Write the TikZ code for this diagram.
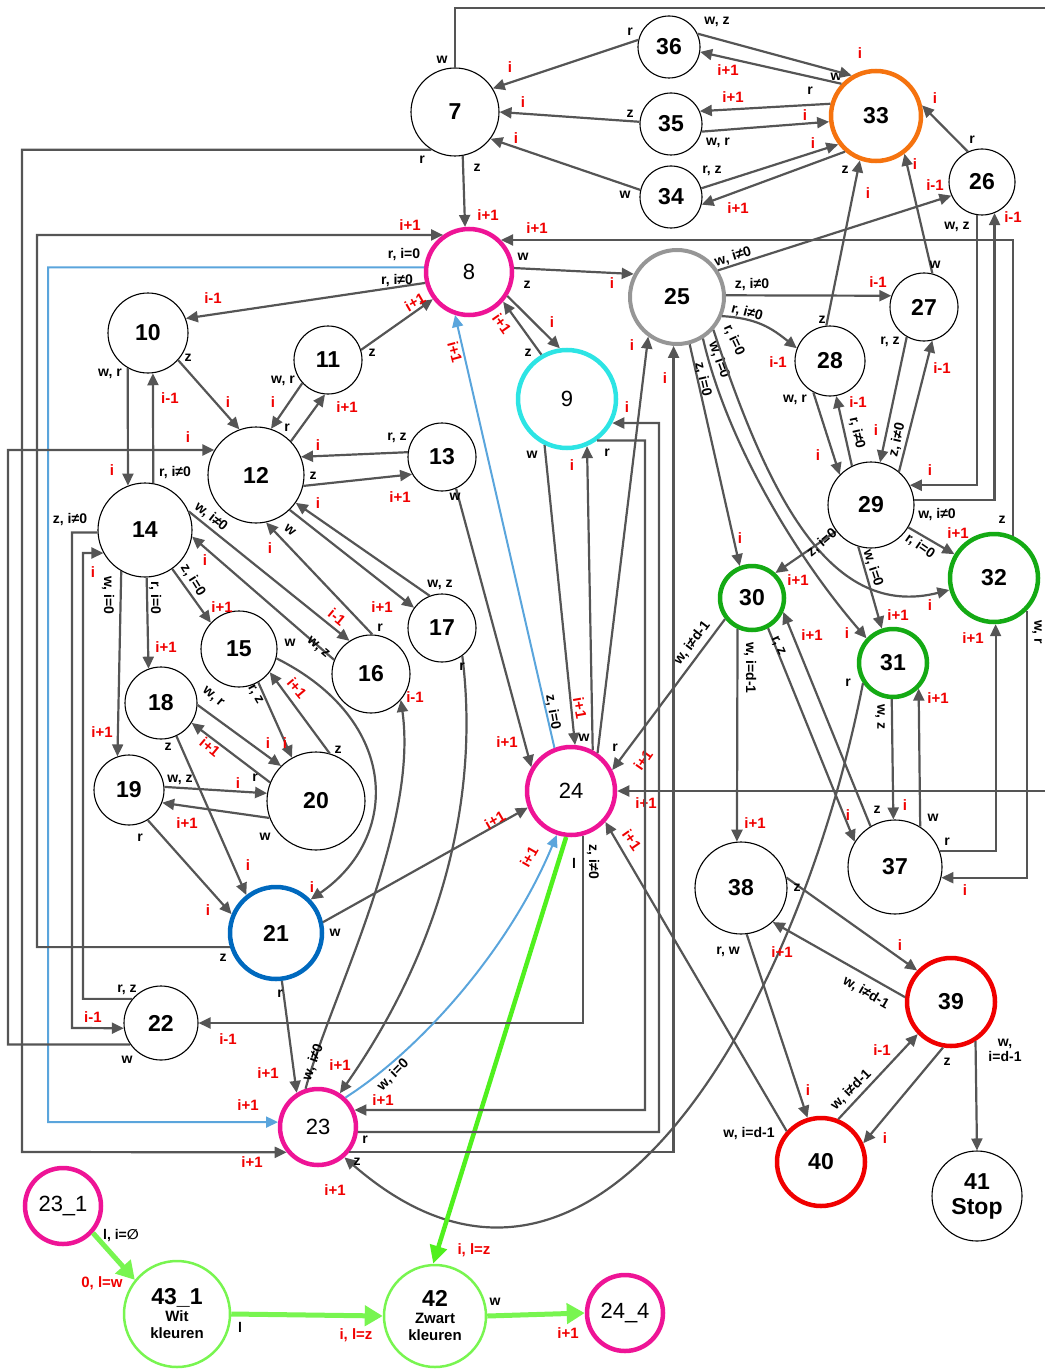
\documentclass[tikz,border=0pt]{standalone}
\usepackage{fontspec}
\setmainfont{Liberation Sans}
\newfontfamily\symf{DejaVu Sans}
\usetikzlibrary{arrows.meta}

\definecolor{edgegray}{RGB}{85,85,85}
\definecolor{pinkc}{RGB}{238,20,150}
\definecolor{cyanc}{RGB}{45,228,228}
\definecolor{orangec}{RGB}{245,115,15}
\definecolor{grayc}{RGB}{150,150,150}
\definecolor{greenc}{RGB}{20,170,20}
\definecolor{bluec}{RGB}{0,105,190}
\definecolor{redc}{RGB}{240,0,0}
\definecolor{lgreenc}{RGB}{120,245,80}
\definecolor{skyc}{RGB}{90,165,220}
\definecolor{brightg}{RGB}{80,240,30}
\definecolor{labred}{RGB}{240,0,0}

\tikzset{
  st/.style={draw, circle, inner sep=0pt, line width=1.1pt, font=\fontsize{23}{25}\selectfont\bfseries},
  stp/.style={st, font=\fontsize{22}{24}\selectfont},
  ring/.style={line width=4.5pt},
  e/.style={draw=edgegray, line width=2.2pt, -{Triangle[length=12pt,width=11pt]}},
  eb/.style={e, draw=skyc, line width=2pt},
  eg/.style={draw=lgreenc, line width=5pt, -{Triangle[length=18pt,width=20pt]}},
  egz/.style={draw=brightg, line width=4.5pt, -{Triangle[length=18pt,width=17pt]}},
  lb/.style={font=\fontsize{14}{15}\selectfont\bfseries, inner sep=0pt, text=black},
  li/.style={font=\fontsize{15}{16}\selectfont\bfseries, inner sep=0pt, text=labred},
}

\begin{document}
\begin{tikzpicture}[x=1pt, y=-1pt]
  \useasboundingbox (0,0) rectangle (1044,1372);

  \node[st, minimum size=88pt] (n7) at (455,112) {7};
  \node[st, minimum size=62pt] (n36) at (669,47) {36};
  \node[st, minimum size=62pt] (n35) at (671,124) {35};
  \node[st, minimum size=62pt] (n34) at (671,197) {34};
  \node[st, ring, draw=orangec, minimum size=90pt] (n33) at (876,116) {33};
  \node[st, minimum size=66pt] (n26) at (982,182) {26};
  \node[stp, ring, draw=pinkc, minimum size=86pt] (n8) at (469,272) {8};
  \node[st, ring, line width=4pt, draw=grayc, minimum size=94pt] (n25) at (677,297) {25};
  \node[st, minimum size=68pt] (n27) at (924,307) {27};
  \node[st, minimum size=70pt] (n28) at (830,361) {28};
  \node[st, minimum size=86pt] (n29) at (871,505) {29};
  \node[st, ring, draw=greenc, minimum size=88pt] (n32) at (994,578) {32};
  \node[st, ring, draw=greenc, minimum size=64pt] (n30) at (752,598) {30};
  \node[st, ring, draw=greenc, minimum size=68pt] (n31) at (893,663) {31};
  \node[st, minimum size=94pt] (n37) at (895,867) {37};
  \node[st, minimum size=92pt] (n38) at (741,888) {38};
  \node[st, ring, draw=redc, minimum size=88pt] (n39) at (951,1002) {39};
  \node[st, ring, draw=redc, minimum size=88pt] (n40) at (821,1162) {40};
  \node[st, minimum size=90pt, align=center] (n41) at (977,1196) {41\\Stop};
  \node[stp, ring, draw=cyanc, minimum size=98pt] (n9) at (567,399) {9};
  \node[st, minimum size=80pt] (n10) at (148,333) {10};
  \node[st, minimum size=68pt] (n11) at (328,360) {11};
  \node[st, minimum size=96pt] (n12) at (256,475) {12};
  \node[st, minimum size=68pt] (n13) at (442,457) {13};
  \node[st, minimum size=94pt] (n14) at (145,530) {14};
  \node[st, minimum size=76pt] (n15) at (239,649) {15};
  \node[st, minimum size=78pt] (n16) at (371,674) {16};
  \node[st, minimum size=68pt] (n17) at (442,628) {17};
  \node[st, minimum size=72pt] (n18) at (161,703) {18};
  \node[st, minimum size=70pt] (n19) at (129,790) {19};
  \node[st, minimum size=98pt] (n20) at (316,801) {20};
  \node[st, ring, draw=bluec, minimum size=92pt] (n21) at (276,933) {21};
  \node[st, minimum size=74pt] (n22) at (161,1023) {22};
  \node[stp, ring, draw=pinkc, minimum size=76pt] (n23) at (318,1127) {23};
  \node[stp, ring, draw=pinkc, minimum size=88pt] (n24) at (571,791) {24};
  \node[stp, ring, draw=pinkc, minimum size=76pt] (n231) at (63,1206) {23\_1};
  \node[st, line width=2.5pt, draw=lgreenc, minimum size=106pt, align=center, font=\fontsize{15}{17}\selectfont\bfseries] (n431) at (177,1314) {{\fontsize{23}{25}\selectfont 43\_1}\\Wit\\kleuren};
  \node[st, line width=2.5pt, draw=lgreenc, minimum size=102pt, align=center, font=\fontsize{15}{17}\selectfont\bfseries] (n42) at (435,1316) {{\fontsize{23}{25}\selectfont 42}\\Zwart\\kleuren};
  \node[stp, ring, draw=pinkc, minimum size=76pt] (n244) at (625,1313) {24\_4};

  \draw[e] (n36.167) -- (n7.32) node[lb] at (630,32) {r} node[li] at (510,67) {i};
  \draw[e] (n35.176) -- (n7.0) node[lb] at (630,114) {z} node[li] at (523,102) {i};
  \draw[e] (n34.167) -- (n7.-37) node[lb] at (625,195) {w} node[li] at (516,138) {i};
  \draw[e] (n7.-80) -- (n8.95) node[lb] at (477,168) {z} node[li] at (488,215) {i+1};
  \draw[e] (n33.137) -- (n36.-9) node[lb] at (836,77) {w} node[li] at (728,70) {i+1};
  \draw[e] (n36.25) -- (n33.121) node[lb] at (717,22) {w, z} node[li] at (860,53) {i};
  \draw[e] (n33.165) -- (n35.24) node[lb] at (810,91) {r} node[li] at (733,97) {i+1};
  \draw[e] (n35.-14) -- (n33.187) node[lb] at (718,143) {w, r} node[li] at (805,115) {i};
  \draw[e] (n34.16) -- (n33.217) node[lb] at (712,171) {r, z} node[li] at (813,143) {i};
  \draw[e] (n33.229) -- (n34.-14) node[lb] at (845,170) {z} node[li] at (738,208) {i+1};
  \draw[e] (n26.115) -- (n33.13) node[lb] at (972,140) {r} node[li] at (935,98) {i};
  \draw[e] (n28.96) -- (n33.-110) node[lb] at (822,320) {z} node[li] at (868,193) {i};
  \draw[e] (n27.76) -- (n33.-53) node[lb] at (935,265) {w} node[li] at (915,164) {i};

  \draw[e] (n25.33) -- (n26.204) node[lb, rotate=17] at (733,257) {w, i≠0} node[li] at (935,185) {i-1};
  \draw[e] (n25.2) -- (n27.161) node[lb] at (752,285) {z, i≠0} node[li] at (878,282) {i-1};
  \draw[e] (n25.-23) .. controls +(35,2) and +(-25,-20) .. (n28.159) node[lb, rotate=-15] at (747,313) {r, i≠0} node[li] at (778,362) {i-1};
  \draw[e] (n25.-75) -- (n30.111) node[lb, rotate=-77] at (703,379) {z, i=0} node[li] at (740,538) {i};
  \draw[e] (n25.-58) .. controls +(25,108) and +(-66,-76) .. (n31.137) node[lb, rotate=-70] at (719,360) {w, i=0} node[li] at (847,633) {i};
  \draw[e] (n25.-42) .. controls +(56,170) and +(-118,30) .. (n32.195) node[lb, rotate=-65] at (734,340) {r, i=0} node[li] at (930,605) {i};
  \draw[e] (n28.-118) -- (n29.136) node[lb] at (795,400) {w, r} node[li] at (818,455) {i};
  \draw[e] (n29.116) -- (n28.-80) node[lb, rotate=-77] at (857,433) {r, i≠0} node[li] at (858,402) {i-1};
  \draw[e] (n27.-120) -- (n29.78) node[lb] at (890,342) {r, z} node[li] at (876,430) {i};
  \draw[e] (n29.50) -- (n27.-76) node[lb, rotate=77] at (897,440) {z, i≠0} node[li] at (942,368) {i-1};
  \draw[e] (n26.-99) |- (n29.27) node[lb] at (957,227) {w, z} node[li] at (930,470) {i};
  \draw[e] (n29.7) -| (n26.-68) node[lb] at (937,515) {w, i≠0} node[li] at (1013,217) {i-1};
  \draw[e] (n29.-31) -- (n32.149) node[lb, rotate=-35] at (920,546) {r, i=0} node[li] at (958,533) {i+1};
  \draw[e] (n29.217) -- (n30.47) node[lb, rotate=40] at (822,543) {z, i=0} node[li] at (798,580) {i+1};
  \draw[e] (n29.-107) -- (n31.108) node[lb, rotate=-72] at (873,568) {w, i=0} node[li] at (898,615) {i+1};

  \draw[e] (n30.-115) -- (n38.95) node[lb, rotate=-90] at (750,668) {w, i=d-1} node[li] at (755,823) {i+1};
  \draw[e] (n30.-142) -- (n24.27) node[lb, rotate=53] at (692,643) {w, i≠d-1} node[li, rotate=55] at (643,760) {i+1};
  \draw[e] (n30.-62) -- (n37.148) node[lb, rotate=-65] at (778,646) {r, z} node[li] at (848,815) {i};
  \draw[e] (n37.121) -- (n30.-24) node[lb] at (877,810) {z} node[li] at (812,635) {i+1};
  \draw[e] (n31.-92) -- (n37.92) node[lb, rotate=-90] at (880,717) {w, z} node[li] at (905,805) {i};
  \draw[e] (n37.58) -- (n31.-45) node[lb] at (933,818) {w} node[li] at (938,698) {i+1};
  \draw[e] (n37.20) -| (n32.-88) node[lb] at (947,842) {r} node[li] at (973,638) {i+1};
  \draw[e] (n32.-45) |- (n37.-13) node[lb, rotate=-90] at (1037,632) {w, r} node[li] at (965,890) {i};
  \draw[e] (n31.214) .. controls +(-62,316) and +(255,222) .. (n23.-49) node[lb] at (848,683) {r} node[li] at (335,1190) {i+1};

  \draw[e] (n38.13) -- (n39.137) node[lb] at (797,888) {z} node[li] at (900,945) {i};
  \draw[e] (n39.174) -- (n38.-47) node[lb, rotate=-30] at (866,993) {w, i≠d-1} node[li] at (782,952) {i+1};
  \draw[e] (n38.-83) -- (n40.107) node[lb] at (728,952) {r, w} node[li] at (808,1090) {i};
  \draw[e] (n40.68) -- (n39.-136) node[lb, rotate=45] at (851,1090) {w, i≠d-1} node[li] at (882,1050) {i-1};
  \draw[e] (n39.-100) -- (n40.24) node[lb] at (947,1062) {z} node[li] at (885,1138) {i};
  \draw[e] (n39.-58) -- (n41.north) node[lb, align=center] at (1005,1050) {w,\\i=d-1};
  \draw[e] (n40.138) -- (n24.-42) node[lb] at (749,1133) {w, i=d-1} node[li, rotate=-55] at (632,840) {i+1};

  \draw[egz] (n24.-96) -- (n42.92) node[lb] at (574,863) {l} node[li] at (474,1250) {i, l=z};
  \draw[e] (n24.-75) |- (n22.east) node[lb, rotate=-90] at (593,862) {z, i≠0} node[li] at (228,1039) {i-1};
  \draw[e] (n21.13) -- (n24.201) node[lb] at (335,933) {w} node[li, rotate=30] at (495,820) {i+1};
  \draw[eb] (n23.47) .. controls +(75,-48) and +(-47,114) .. (n24.-108) node[lb, rotate=45] at (393,1075) {w, i=0} node[li, rotate=60] at (529,857) {i+1};
  \draw[e] (n23.108) .. controls +(24,-89) and +(18,129) .. (n16.-41) node[lb, rotate=70] at (313,1062) {w, i≠0} node[li] at (415,697) {i-1};
  \draw[e] (n17.-54) .. controls +(18,144) and +(100,-143) .. (n23.57) node[lb] at (462,667) {r} node[li] at (340,1065) {i+1};
  \draw[e] (n21.-83) -- (n23.122) node[lb] at (280,994) {r} node[li] at (268,1073) {i+1};

  \draw[eb] (n8.174) -| (48,1122) -- (n23.173) node[lb] at (404,255) {r, i=0} node[li] at (248,1105) {i+1};
  \draw[e] (n7.-122) -| (22,1152) -- (n23.219) node[lb] at (422,160) {r} node[li] at (252,1162) {i+1};
  \draw[e] (n21.197) -| (37,235) -- (n8.125) node[lb] at (223,958) {z} node[li] at (410,225) {i+1};
  \draw[e] (n32.66) |- (n8.45) node[lb] at (1002,520) {z} node[li] at (537,228) {i+1};
  \draw[e] (n7.north) |- (1060,8) |- (n24.east) node[lb] at (442,60) {w} node[li] at (646,803) {i+1};
  \draw[e] (n22.-145) -| (8,450) -- (n12.149) node[lb] at (127,1060) {w} node[li] at (188,437) {i};
  \draw[e] (n14.183) -| (72,1028) -- (n22.188) node[lb] at (70,520) {z, i≠0} node[li] at (93,1017) {i-1};
  \draw[e] (n22.140) -| (83,553) -- (n14.209) node[lb] at (127,990) {r, z} node[li] at (93,572) {i};

  \draw[e] (n8.5) -- (n25.152) node[lb] at (523,257) {w} node[li] at (612,283) {i};
  \draw[e] (n8.-32) -- (n9.98) node[lb] at (527,285) {z} node[li] at (552,322) {i};
  \draw[e] (n9.120) -- (n8.-41) node[lb] at (528,353) {z} node[li, rotate=-55] at (502,324) {i+1};
  \draw[e] (n8.194) -- (n10.21) node[lb] at (397,281) {r, i≠0} node[li] at (213,298) {i-1};
  \draw[e] (n11.17) -- (n8.217) node[lb] at (372,353) {z} node[li, rotate=30] at (415,302) {i+1};
  \draw[eb] (n24.111) -- (n8.-108) node[lb, rotate=-80] at (553,712) {z, i=0} node[li, rotate=-75] at (455,352) {i+1};
  \draw[e] (n9.-116) -- (n24.85) node[lb] at (532,455) {w} node[li, rotate=-80] at (580,708) {i+1};
  \draw[e] (n24.62) -- (n9.-67) node[lb] at (584,738) {w} node[li] at (572,465) {i};
  \draw[e] (n24.55) -- (n25.-126) node[lb] at (615,748) {r} node[li] at (632,345) {i};
  \draw[e] (n23.-39) -| (n25.-94) node[lb] at (357,1162) {z} node[li] at (665,378) {i};
  \draw[e] (n9.-54) -| (645,1110) -- (n23.25) node[lb] at (607,453) {r} node[li] at (383,1100) {i+1};
  \draw[e] (n23.-7) -| (659,423) -- (n9.-28) node[lb] at (365,1140) {r} node[li] at (627,407) {i};
  \draw[e] (n13.-66) -- (n24.149) node[lb] at (455,497) {w} node[li] at (507,742) {i+1};

  \draw[e] (n10.-120) -- (n14.111) node[lb] at (110,374) {w, r} node[li] at (112,470) {i};
  \draw[e] (n14.80) -- (n10.-83) node[lb] at (175,473) {r, i≠0} node[li] at (170,398) {i-1};
  \draw[e] (n10.-42) -- (n12.110) node[lb] at (188,358) {z} node[li] at (228,402) {i};
  \draw[e] (n12.44) -- (n11.-95) node[lb] at (287,428) {r} node[li] at (347,407) {i+1};
  \draw[e] (n11.-138) -- (n12.72) node[lb] at (283,381) {w, r} node[li] at (273,402) {i};
  \draw[e] (n13.172) -- (n12.22) node[lb] at (397,438) {r, z} node[li] at (318,445) {i};
  \draw[e] (n12.-13) -- (n13.210) node[lb] at (313,476) {z} node[li] at (400,497) {i+1};
  \draw[e] (n17.111) -- (n12.-35) node[lb] at (440,585) {w, z} node[li] at (318,503) {i};
  \draw[e] (n12.-46) -- (n17.144) node[lb, rotate=-40] at (290,530) {w} node[li] at (382,607) {i+1};
  \draw[e] (n16.88) -- (n12.-78) node[lb] at (380,628) {r} node[li] at (270,548) {i};
  \draw[e] (n14.23) -- (n16.123) node[lb, rotate=-38] at (211,517) {w, i≠0} node[li, rotate=-40] at (337,617) {i-1};
  \draw[e] (n16.159) -- (n14.-8) node[lb, rotate=-40] at (318,648) {w, z} node[li] at (205,560) {i};
  \draw[e] (n14.-55) -- (n15.137) node[lb, rotate=-58] at (193,580) {z, i=0} node[li] at (222,607) {i+1};
  \draw[e] (n14.-88) -- (n18.110) node[lb, rotate=-90] at (155,598) {r, i=0} node[li] at (166,647) {i+1};
  \draw[e] (n14.-120) -- (n19.109) node[lb, rotate=-90] at (108,595) {w, i=0} node[li] at (102,732) {i+1};
  \draw[e] (n15.-14) .. controls +(124,62) and +(90,-62) .. (n21.44) node[lb] at (290,643) {w} node[li] at (312,887) {i};
  \draw[e] (n15.-60) -- (n20.119) node[lb, rotate=-60] at (255,695) {r, z} node[li] at (285,743) {i};
  \draw[e] (n20.74) -- (n15.-37) node[lb] at (338,750) {z} node[li, rotate=-50] at (297,688) {i+1};
  \draw[e] (n18.-3) -- (n20.135) node[lb, rotate=-40] at (213,697) {w, r} node[li] at (268,743) {i};
  \draw[e] (n20.158) -- (n18.-33) node[lb] at (255,778) {r} node[li, rotate=-40] at (210,747) {i+1};
  \draw[e] (n19.5) -- (n20.171) node[lb] at (180,780) {w, z} node[li] at (238,783) {i};
  \draw[e] (n20.200) -- (n19.-21) node[lb] at (265,837) {w} node[li] at (187,823) {i+1};
  \draw[e] (n18.-65) -- (n21.128) node[lb] at (168,747) {z} node[li] at (248,865) {i};
  \draw[e] (n19.-58) -- (n21.157) node[lb] at (140,838) {r} node[li] at (208,910) {i};

  \draw[eg] (n231.-42) -- (n431.141) node[lb] at (121,1235) {l, i={\symf ∅}} node[li] at (102,1283) {0, l=w};
  \draw[eg] (n431.east) -- (n42.west) node[lb] at (240,1327) {l} node[li] at (356,1335) {i, l=z};
  \draw[eg] (n42.east) -- (n244.west) node[lb] at (495,1302) {w} node[li] at (568,1333) {i+1};
\end{tikzpicture}
\end{document}
